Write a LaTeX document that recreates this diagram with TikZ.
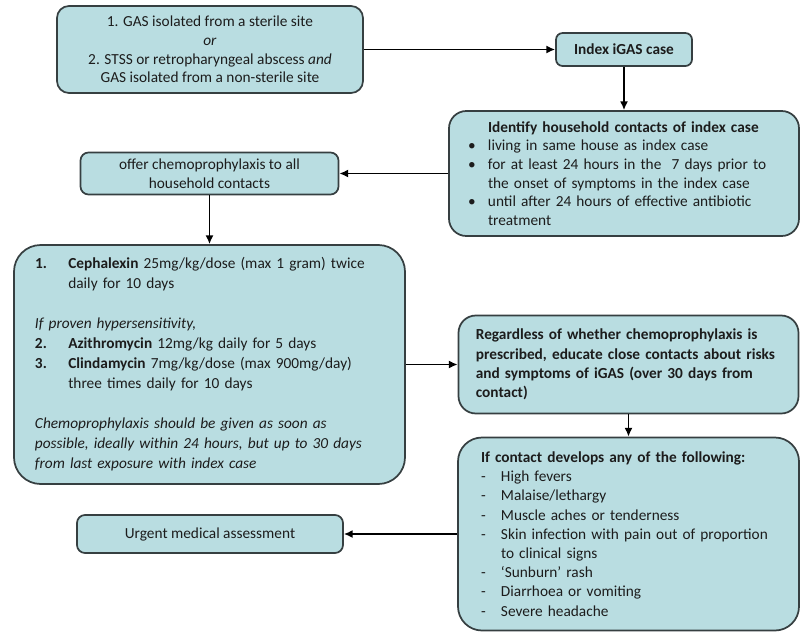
\documentclass[tikz,border=0pt]{standalone}
\usepackage{fontspec}
\setmainfont{Carlito}
\usepackage{xcolor}
\usepackage{tikz}
\usetikzlibrary{arrows.meta}
\usetikzlibrary{positioning}
\definecolor{boxfill}{HTML}{B9DDE1}
\definecolor{boxline}{HTML}{363F41}
\definecolor{boxtext}{HTML}{1C1C1C}
\tikzstyle{stage}=[rectangle,draw=boxline,fill=boxfill,line width=1.3pt,text=boxtext,inner sep=0pt,font=\fontsize{11.5pt}{14pt}\selectfont]
\tikzstyle{edge} = [draw,line width=1.4pt,-{Latex[length=6.5pt,width=6pt]}]
\newcommand{\hangitem}[3][15pt]{\makebox[#1][l]{#2}#3}
\newcommand{\hangcont}[2][15pt]{\makebox[#1][l]{}#2}

\begin{document}
\begin{tikzpicture}[x=0.75pt,y=-0.75pt]

  \useasboundingbox (0,0) rectangle (800,632);

  % top row
  \node[stage,rounded corners=9pt,minimum width=229.5pt,minimum height=65.25pt,align=center] (criteria) at (210,49.5)
    {1. GAS isolated from a sterile site\\ \textit{or}\\ 2. STSS or retropharyngeal abscess \textit{and}\\ GAS isolated from a non-sterile site};
  \node[stage,rounded corners=5pt,minimum width=102pt,minimum height=24.75pt,font=\fontsize{11.5pt}{14pt}\selectfont\bfseries] (index) at (624,49.5) {Index iGAS case};

  % contacts
  \node[stage,rounded corners=13pt,minimum width=262.5pt,minimum height=93.75pt,text width=234pt,align=left] (household) at (624,173.5)
    {\hangcont{\textbf{Identify household contacts of index case}}\\
     \hangitem{\textbullet}{living in same house as index case}\\
     \hangitem{\textbullet}{for at least 24 hours in the\ \ 7 days prior to}\\
     \hangcont{the onset of symptoms in the index case}\\
     \hangitem{\textbullet}{until after 24 hours of effective antibiotic}\\
     \hangcont{treatment}};
  \node[stage,rounded corners=6pt,minimum width=193.5pt,minimum height=31.5pt,align=center] (offer) at (209.5,173.5)
    {offer chemoprophylaxis to all\\ household contacts};

  % treatment
  \node[stage,rounded corners=20pt,minimum width=293.25pt,minimum height=179.25pt,text width=261.75pt,align=left,font=\fontsize{11.5pt}{15pt}\selectfont] (regimen) at (209.5,364.5)
    {\hangitem[25pt]{\textbf{1.}}{\textbf{Cephalexin} 25mg/kg/dose (max 1 gram) twice}\\
     \hangcont[25pt]{daily for 10 days}\\[15pt]
     \textit{If proven hypersensitivity,}\\
     \hangitem[25pt]{\textbf{2.}}{\textbf{Azithromycin} 12mg/kg daily for 5 days}\\
     \hangitem[25pt]{\textbf{3.}}{\textbf{Clindamycin} 7mg/kg/dose (max 900mg/day)}\\
     \hangcont[25pt]{three times daily for 10 days}\\[15pt]
     \textit{Chemoprophylaxis should be given as soon as}\\
     \textit{possible, ideally within 24 hours, but up to 30 days}\\
     \textit{from last exposure with index case}};
  \node[stage,rounded corners=13pt,minimum width=255pt,minimum height=73.5pt,text width=229pt,align=left,font=\fontsize{11.5pt}{14.5pt}\selectfont\bfseries] (educate) at (628.5,364.5)
    {\mbox{Regardless of whether chemoprophylaxis is}\\ \mbox{prescribed, educate close contacts about risks}\\ \mbox{and symptoms of iGAS (over 30 days from}\\ contact)};

  % warning signs
  \node[stage,rounded corners=18pt,minimum width=255.75pt,minimum height=144.75pt,text width=221.25pt,align=left,font=\fontsize{11.5pt}{14.4pt}\selectfont] (symptoms) at (628.5,534)
    {\textbf{If contact develops any of the following:}\\
     \hangitem{-}{High fevers}\\
     \hangitem{-}{Malaise/lethargy}\\
     \hangitem{-}{Muscle aches or tenderness}\\
     \hangitem{-}{Skin infection with pain out of proportion}\\
     \hangcont{to clinical signs}\\
     \hangitem{-}{`Sunburn' rash}\\
     \hangitem{-}{Diarrhoea or vomiting}\\
     \hangitem{-}{Severe headache}};
  \node[stage,rounded corners=6pt,minimum width=199.5pt,minimum height=28.5pt] (urgent) at (210,534) {Urgent medical assessment};

  \foreach \source/\dest in {criteria/index, index/household, household/offer, offer/regimen, regimen/educate, educate/symptoms, symptoms/urgent}
         \path[edge] (\source) -- (\dest);

\end{tikzpicture}
\end{document}
